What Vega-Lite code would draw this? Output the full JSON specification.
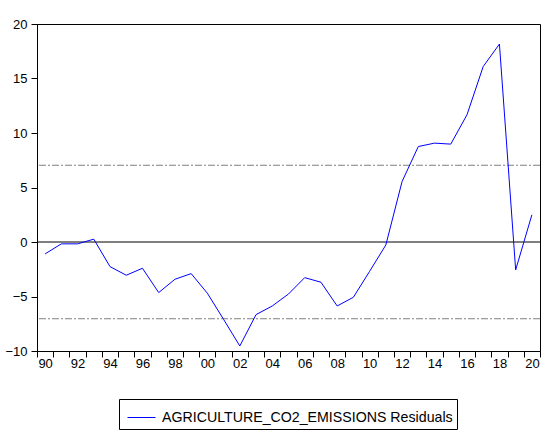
{
  "$schema": "https://vega.github.io/schema/vega-lite/v6.json",
  "autosize": "none",
  "padding": {"left": 37, "top": 24, "right": 13, "bottom": 82},
  "width": 503,
  "height": 327,
  "background": "white",
  "config": {
    "view": {"stroke": "black", "strokeWidth": 1},
    "font": "Liberation Sans",
    "axis": {"labelFont": "Liberation Sans", "labelColor": "black", "domainColor": "black", "tickColor": "black", "grid": false, "title": null}
  },
  "datasets": {
    "resid": [
      {"year": 1990, "value": -1.09, "series": "AGRICULTURE_CO2_EMISSIONS Residuals"},
      {"year": 1991, "value": -0.17, "series": "AGRICULTURE_CO2_EMISSIONS Residuals"},
      {"year": 1992, "value": -0.17, "series": "AGRICULTURE_CO2_EMISSIONS Residuals"},
      {"year": 1993, "value": 0.26, "series": "AGRICULTURE_CO2_EMISSIONS Residuals"},
      {"year": 1994, "value": -2.26, "series": "AGRICULTURE_CO2_EMISSIONS Residuals"},
      {"year": 1995, "value": -3.05, "series": "AGRICULTURE_CO2_EMISSIONS Residuals"},
      {"year": 1996, "value": -2.41, "series": "AGRICULTURE_CO2_EMISSIONS Residuals"},
      {"year": 1997, "value": -4.64, "series": "AGRICULTURE_CO2_EMISSIONS Residuals"},
      {"year": 1998, "value": -3.42, "series": "AGRICULTURE_CO2_EMISSIONS Residuals"},
      {"year": 1999, "value": -2.9, "series": "AGRICULTURE_CO2_EMISSIONS Residuals"},
      {"year": 2000, "value": -4.7, "series": "AGRICULTURE_CO2_EMISSIONS Residuals"},
      {"year": 2001, "value": -7.1, "series": "AGRICULTURE_CO2_EMISSIONS Residuals"},
      {"year": 2002, "value": -9.54, "series": "AGRICULTURE_CO2_EMISSIONS Residuals"},
      {"year": 2003, "value": -6.66, "series": "AGRICULTURE_CO2_EMISSIONS Residuals"},
      {"year": 2004, "value": -5.87, "series": "AGRICULTURE_CO2_EMISSIONS Residuals"},
      {"year": 2005, "value": -4.77, "series": "AGRICULTURE_CO2_EMISSIONS Residuals"},
      {"year": 2006, "value": -3.27, "series": "AGRICULTURE_CO2_EMISSIONS Residuals"},
      {"year": 2007, "value": -3.69, "series": "AGRICULTURE_CO2_EMISSIONS Residuals"},
      {"year": 2008, "value": -5.87, "series": "AGRICULTURE_CO2_EMISSIONS Residuals"},
      {"year": 2009, "value": -5.07, "series": "AGRICULTURE_CO2_EMISSIONS Residuals"},
      {"year": 2010, "value": -2.69, "series": "AGRICULTURE_CO2_EMISSIONS Residuals"},
      {"year": 2011, "value": -0.27, "series": "AGRICULTURE_CO2_EMISSIONS Residuals"},
      {"year": 2012, "value": 5.55, "series": "AGRICULTURE_CO2_EMISSIONS Residuals"},
      {"year": 2013, "value": 8.76, "series": "AGRICULTURE_CO2_EMISSIONS Residuals"},
      {"year": 2014, "value": 9.07, "series": "AGRICULTURE_CO2_EMISSIONS Residuals"},
      {"year": 2015, "value": 8.98, "series": "AGRICULTURE_CO2_EMISSIONS Residuals"},
      {"year": 2016, "value": 11.67, "series": "AGRICULTURE_CO2_EMISSIONS Residuals"},
      {"year": 2017, "value": 16.1, "series": "AGRICULTURE_CO2_EMISSIONS Residuals"},
      {"year": 2018, "value": 18.16, "series": "AGRICULTURE_CO2_EMISSIONS Residuals"},
      {"year": 2019, "value": -2.56, "series": "AGRICULTURE_CO2_EMISSIONS Residuals"},
      {"year": 2020, "value": 2.49, "series": "AGRICULTURE_CO2_EMISSIONS Residuals"}
    ],
    "bands": [
      {"level": 7.04},
      {"level": -7.04}
    ],
    "zero": [
      {"level": 0}
    ]
  },
  "layer": [
    {
      "data": {"name": "bands"},
      "mark": {"type": "rule", "color": "#808080", "strokeWidth": 1, "strokeDash": [7, 2, 2, 2]},
      "encoding": {
        "y": {"field": "level", "type": "quantitative", "scale": {"domain": [-10, 20], "nice": false, "zero": false}}
      }
    },
    {
      "data": {"name": "zero"},
      "mark": {"type": "rule", "color": "black", "strokeWidth": 1},
      "encoding": {
        "y": {"field": "level", "type": "quantitative"}
      }
    },
    {
      "data": {"name": "resid"},
      "mark": {"type": "line", "strokeWidth": 1, "clip": true},
      "encoding": {
        "x": {
          "field": "year", "type": "quantitative",
          "scale": {"domain": [1989.5, 2020.5], "nice": false, "zero": false},
          "axis": {
            "values": [1989.5, 1990, 1990.5, 1991.5, 1992, 1992.5, 1993.5, 1994, 1994.5, 1995.5, 1996, 1996.5, 1997.5, 1998, 1998.5, 1999.5, 2000, 2000.5, 2001.5, 2002, 2002.5, 2003.5, 2004, 2004.5, 2005.5, 2006, 2006.5, 2007.5, 2008, 2008.5, 2009.5, 2010, 2010.5, 2011.5, 2012, 2012.5, 2013.5, 2014, 2014.5, 2015.5, 2016, 2016.5, 2017.5, 2018, 2018.5, 2019.5, 2020, 2020.5],
            "labelExpr": "datum.value % 1 == 0 ? format(datum.value % 100, '02d') : ''",
            "tickOpacity": {"condition": {"test": "datum.value % 1 != 0", "value": 1}, "value": 0},
            "tickSize": 6,
            "labelPadding": 0,
            "labelFontSize": 13,
            "labelOverlap": false,
            "labelFlush": false,
            "labelBound": false
          }
        },
        "y": {
          "field": "value", "type": "quantitative",
          "scale": {"domain": [-10, 20], "nice": false, "zero": false},
          "axis": {"values": [-10, -5, 0, 5, 10, 15, 20], "tickSize": 6, "labelPadding": 4, "labelFontSize": 13}
        },
        "color": {
          "field": "series", "type": "nominal",
          "scale": {"range": ["#0000ff"]},
          "legend": {
            "title": null,
            "orient": "none",
            "legendX": 82,
            "legendY": 375,
            "strokeColor": "black",
            "padding": 4,
            "symbolOffset": 4,
            "labelOffset": 6,
            "symbolType": "stroke",
            "symbolSize": 784,
            "symbolStrokeWidth": 1,
            "labelFont": "Liberation Sans",
            "labelFontSize": 14.2,
            "labelColor": "black",
            "labelLimit": 500
          }
        }
      }
    }
  ]
}
